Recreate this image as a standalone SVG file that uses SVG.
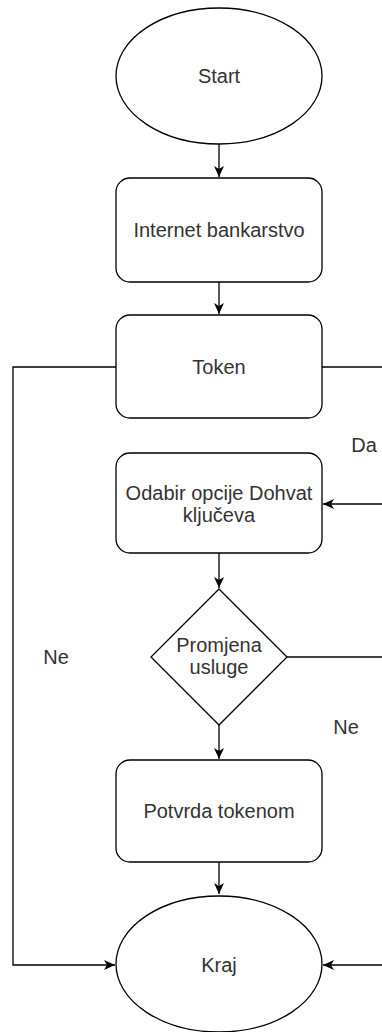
<svg xmlns="http://www.w3.org/2000/svg" width="382" height="1032" viewBox="0 0 382 1032">
<style>
.shape{fill:#fff;stroke:#000;stroke-width:1.3}
.edge{fill:none;stroke:#000;stroke-width:1.3}
.t{font-family:"Liberation Sans",Arial,sans-serif;font-size:20px;fill:#333;text-anchor:middle}
</style>
<defs>
<marker id="arr" markerUnits="userSpaceOnUse" markerWidth="14" markerHeight="14" refX="11" refY="7" orient="auto">
<path d="M0,2 L11,7 L0,12 L3,7 Z" fill="#000"/>
</marker>
</defs>
<rect width="382" height="1032" fill="#fff"/>
<g id="connectors">
<path class="edge" d="M219,144 V177" marker-end="url(#arr)"/>
<path class="edge" d="M219,282 V314" marker-end="url(#arr)"/>
<path class="edge" d="M116,367 H13 V965 H115" marker-end="url(#arr)"/>
<path class="edge" d="M322,367 H382"/>
<path class="edge" d="M382,504 H323" marker-end="url(#arr)"/>
<path class="edge" d="M219,553 V588" marker-end="url(#arr)"/>
<path class="edge" d="M287,657 H382"/>
<path class="edge" d="M219,725 V759" marker-end="url(#arr)"/>
<path class="edge" d="M219,862 V894" marker-end="url(#arr)"/>
<path class="edge" d="M382,965 H323" marker-end="url(#arr)"/>
</g>
<g id="start">
<ellipse class="shape" cx="219" cy="76" rx="103" ry="68"/>
<text class="t" x="219" y="83">Start</text>
</g>
<g id="internet">
<rect class="shape" x="116" y="178" width="206" height="104" rx="14"/>
<text class="t" x="219" y="237">Internet bankarstvo</text>
</g>
<g id="token">
<rect class="shape" x="116" y="315" width="206" height="103" rx="14"/>
<text class="t" x="219" y="374">Token</text>
</g>
<g id="odabir">
<rect class="shape" x="116" y="453" width="206" height="100" rx="14"/>
<text class="t" x="219" y="500">Odabir opcije Dohvat</text>
<text class="t" x="219" y="522">ključeva</text>
</g>
<g id="promjena">
<polygon class="shape" points="219,589 287,657 219,725 151,657"/>
<text class="t" x="219" y="652">Promjena</text>
<text class="t" x="219" y="674">usluge</text>
</g>
<g id="potvrda">
<rect class="shape" x="116" y="760" width="206" height="102" rx="14"/>
<text class="t" x="219" y="818">Potvrda tokenom</text>
</g>
<g id="kraj">
<ellipse class="shape" cx="219" cy="964" rx="103" ry="68"/>
<text class="t" x="219" y="972">Kraj</text>
</g>
<g id="labels">
<text class="t" x="364" y="452">Da</text>
<text class="t" x="56" y="664">Ne</text>
<text class="t" x="346" y="734">Ne</text>
</g>
</svg>
